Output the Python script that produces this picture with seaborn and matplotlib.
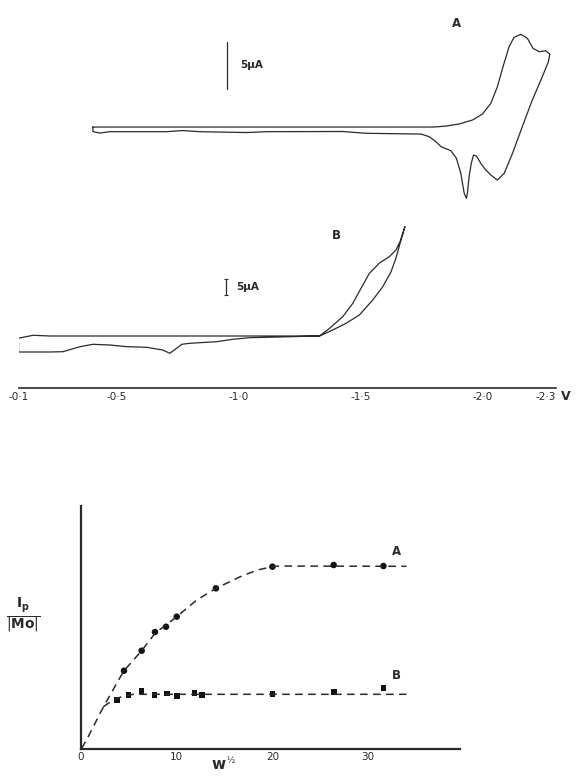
import matplotlib
matplotlib.use('Agg')
import matplotlib.pyplot as plt
import seaborn as sns

# --- cyclic voltammogram A: potential (V) and current (uA), read round the loop
cv_a_potential = [-0.403, -1.800, -1.850, -1.904, -1.959, -2.000, -2.034, -2.061, -2.084,
                  -2.109, -2.129, -2.157, -2.184, -2.207, -2.232, -2.259, -2.276, -2.270,
                  -2.245, -2.204, -2.163, -2.123, -2.089, -2.061, -2.034, -2.011, -1.993,
                  -1.975, -1.963, -1.954, -1.945, -1.938, -1.934, -1.925, -1.911, -1.893,
                  -1.870, -1.850, -1.830, -1.809, -1.782, -1.748, -1.523, -1.426, -1.115,
                  -1.033, -0.841, -0.771, -0.706, -0.472, -0.431, -0.411, -0.403, -0.403]
cv_a_current = [0.0, 0.0, 0.10, 0.32, 0.74, 1.37, 2.49, 4.24, 6.35,
                8.46, 9.44, 9.76, 9.34, 8.28, 7.93, 8.03, 7.68, 6.87,
                5.29, 2.84, 0.03, -2.77, -4.87, -5.58, -5.05, -4.45, -3.82,
                -3.05, -2.95, -3.82, -5.23, -6.98, -7.51, -6.98, -4.87, -3.29,
                -2.49, -2.28, -2.07, -1.55, -1.02, -0.74, -0.66, -0.47, -0.49,
                -0.58, -0.49, -0.37, -0.49, -0.49, -0.63, -0.53, -0.47, 0.0]

# --- cyclic voltammogram B
cv_b_potential = [-0.097, -0.157, -0.227, -1.332, -1.386, -1.441, -1.495, -1.550, -1.591,
                  -1.625, -1.645, -1.662, -1.682, -1.662, -1.645, -1.618, -1.577, -1.536,
                  -1.502, -1.468, -1.427, -1.373, -1.332, -1.250, -1.045, -0.976, -0.910,
                  -0.800, -0.767, -0.746, -0.718, -0.689, -0.624, -0.542, -0.472, -0.403,
                  -0.350, -0.280, -0.227, -0.098, -0.098]
cv_b_current = [-0.74, 0.23, 0.0, 0.0, 1.94, 4.10, 6.77, 11.61, 15.9,
                20.7, 25.1, 29.9, 35.3, 30.4, 27.7, 25.6, 23.5, 20.2,
                15.4, 10.5, 6.23, 2.48, 0.0, -0.16, -0.55, -1.06, -1.84,
                -2.35, -2.68, -3.97, -5.58, -4.52, -3.65, -3.44, -2.90, -2.68,
                -3.45, -5.06, -5.16, -5.16, -2.26]

volt_ticks = [-0.1, -0.5, -1.0, -1.5, -2.0, -2.3]
volt_labels = ['-0·1', '-0·5', '-1·0', '-1·5', '-2·0', '-2·3']

# --- peak current / [Mo] against w^1/2
w_a = [4.49, 6.34, 7.73, 8.88, 10.0, 14.1, 20.0, 26.4, 31.6]
ip_a = [0.836, 1.049, 1.248, 1.304, 1.411, 1.713, 1.943, 1.961, 1.950]
w_b = [3.79, 4.96, 6.32, 7.68, 8.96, 10.05, 11.84, 12.62, 20.0, 26.44, 31.63]
ip_b = [0.524, 0.578, 0.620, 0.578, 0.594, 0.569, 0.597, 0.578, 0.588, 0.610, 0.655]

# dashed curves as drawn on the figure
curve_a_w = [0.07, 0.66, 1.29, 1.99, 2.85, 3.73, 4.49, 6.34, 7.73, 10.0, 12.09, 14.1,
             15.9, 16.5, 18.4, 20.0, 20.75, 34.0]
curve_a_ip = [0.01, 0.117, 0.24, 0.383, 0.543, 0.702, 0.836, 1.049, 1.234, 1.41, 1.588,
              1.713, 1.80, 1.83, 1.907, 1.943, 1.95, 1.947]
curve_b_w = [2.33, 3.37, 4.42, 5.47, 7.0, 34.0]
curve_b_ip = [0.453, 0.524, 0.567, 0.585, 0.585, 0.585]

sns.set_style('white')
plt.rcParams['font.family'] = ['DejaVu Sans']
plt.rcParams['mathtext.fontset'] = 'dejavusans'
ink = '#2a2a2a'

W, H = 577, 780
fig = plt.figure(figsize=(W / 100, H / 100), dpi=100)


def box(left, top, right, bottom):
    return [left / W, 1 - bottom / H, (right - left) / W, (bottom - top) / H]


# voltammogram A
axA = fig.add_axes(box(19, 10, 555.7, 215))
sns.lineplot(x=cv_a_potential, y=cv_a_current, sort=False, estimator=None,
             color=ink, lw=0.9, ax=axA)
axA.set_xlim(-0.1, -2.3)
axA.set_ylim(-9.26, 12.32)
axA.plot([-0.951, -0.951], [3.97, 8.97], color=ink, lw=0.9)
axA.text(-1.008, 6.5, '5µA', fontsize=7.5, fontweight='bold', va='center', color=ink)
axA.text(-1.892, 10.95, 'A', fontsize=8.5, fontweight='bold', ha='center', va='center', color=ink)
axA.axis('off')

# voltammogram B with the potential scale
axB = fig.add_axes(box(19, 215, 555.7, 388.3))
sns.lineplot(x=cv_b_potential, y=cv_b_current, sort=False, estimator=None,
             color=ink, lw=0.9, ax=axB)
axB.set_xlim(-0.1, -2.3)
axB.set_ylim(-16.87, 39.03)
axB.plot([-0.947, -0.947], [13.2, 18.3], color=ink, lw=0.9, marker='_', ms=3, mew=0.8)
axB.text(-0.992, 15.8, '5µA', fontsize=7.5, fontweight='bold', va='center', color=ink)
axB.text(-1.401, 32.3, 'B', fontsize=8.5, fontweight='bold', ha='center', va='center', color=ink)
for s in ['top', 'left', 'right']:
    axB.spines[s].set_visible(False)
axB.spines['bottom'].set_color(ink)
axB.spines['bottom'].set_linewidth(1.2)
axB.set_yticks([])
axB.set_xticks(volt_ticks)
axB.set_xticklabels(volt_labels, fontsize=7.5, color=ink)
axB.get_xticklabels()[-1].set_horizontalalignment('right')
axB.tick_params(axis='x', direction='in', length=4, width=1, colors=ink, pad=3)
fig.text(566 / W, 1 - 397 / H, 'V', fontsize=9, fontweight='bold', ha='center', va='center', color=ink)

# peak current plot
axC = fig.add_axes(box(81, 505.5, 460, 749.3))
sns.lineplot(x=curve_a_w, y=curve_a_ip, sort=False, estimator=None, color=ink,
             lw=1.1, ax=axC, dashes=False, linestyle=(0, (5, 3.5)))
sns.lineplot(x=curve_b_w, y=curve_b_ip, sort=False, estimator=None, color=ink,
             lw=1.1, ax=axC, dashes=False, linestyle=(0, (5, 3.5)))
sns.scatterplot(x=w_a, y=ip_a, marker='o', s=22, color='#111111', edgecolor='none', ax=axC)
sns.scatterplot(x=w_b, y=ip_b, marker='s', s=16, color='#111111', edgecolor='none', ax=axC)
axC.set_xlim(0, 39.6)
axC.set_ylim(0, 2.594)
for s in ['top', 'right']:
    axC.spines[s].set_visible(False)
for s in ['left', 'bottom']:
    axC.spines[s].set_color(ink)
    axC.spines[s].set_linewidth(1.6)
axC.set_xticks([0, 10, 20, 30])
axC.set_xticklabels(['0', '10', '20', '30'], fontsize=7.5, color=ink)
axC.set_yticks([1, 2])
axC.set_yticklabels([])
axC.tick_params(axis='both', direction='in', length=3, width=1, colors=ink, pad=2)
axC.text(33.0, 2.10, 'A', fontsize=8.5, fontweight='bold', ha='center', va='center', color=ink)
axC.text(33.0, 0.78, 'B', fontsize=8.5, fontweight='bold', ha='center', va='center', color=ink)

fig.text(23 / W, 1 - 616 / H, r'$\frac{\mathbf{I_p}}{|\mathbf{Mo}|}$', fontsize=14,
         ha='center', va='center', color=ink)
fig.text(219 / W, 1 - 772 / H, 'w', fontsize=11, fontweight='bold', ha='center', va='bottom', color=ink)
fig.text(226 / W, 1 - 765 / H, '½', fontsize=6, ha='left', va='bottom', color=ink)

fig.savefig('out.png', dpi=100)
